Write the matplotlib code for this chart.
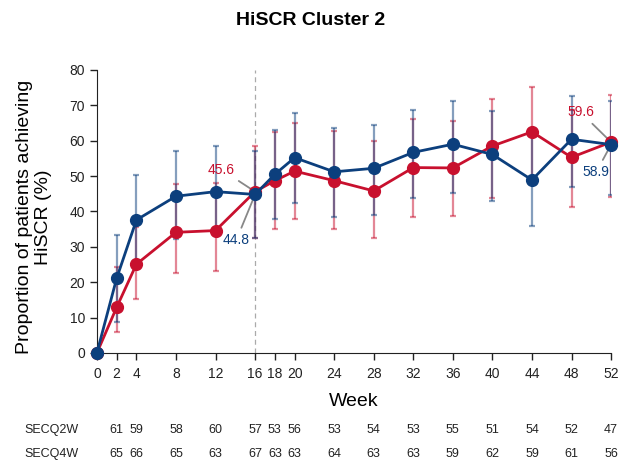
import numpy as np
import matplotlib
matplotlib.use("Agg")
import matplotlib.pyplot as plt
import matplotlib.transforms as mtransforms

plt.rcParams['font.family'] = ['Liberation Sans', 'DejaVu Sans']

weeks = [0, 2, 4, 8, 12, 16, 18, 20, 24, 28, 32, 36, 40, 44, 48, 52]

# SECQ2W (blue)
q2w = [0, 21.1, 37.6, 44.3, 45.6, 44.8, 50.5, 55.2, 51.2, 52.2, 56.7, 59.0, 56.1, 48.9, 60.4, 58.9]
q2w_lo = [0, 8.7, 25.5, 32.2, 33.0, 32.4, 37.8, 42.5, 38.3, 39.0, 43.7, 45.3, 42.9, 35.9, 47.0, 44.6]
q2w_hi = [0, 33.4, 50.3, 57.1, 58.6, 57.1, 63.0, 67.7, 63.7, 64.4, 68.8, 71.3, 68.4, 62.0, 72.6, 71.3]

# SECQ4W (red)
q4w = [0, 12.9, 25.1, 34.1, 34.6, 45.6, 48.7, 51.4, 48.7, 45.8, 52.4, 52.3, 58.5, 62.5, 55.3, 59.6]
q4w_lo = [0, 5.8, 15.2, 22.5, 23.2, 32.6, 35.0, 37.8, 35.0, 32.6, 38.3, 38.7, 43.7, 50.0, 41.2, 44.0]
q4w_hi = [0, 24.4, 35.5, 47.7, 48.1, 58.6, 62.5, 64.9, 62.7, 59.9, 66.1, 65.6, 71.7, 75.1, 68.8, 72.9]

n_q2w = [None, 61, 59, 58, 60, 57, 53, 56, 53, 54, 53, 55, 51, 54, 52, 47]
n_q4w = [None, 65, 66, 65, 63, 67, 63, 63, 64, 63, 63, 59, 62, 59, 61, 56]

blue = '#0c3f7d'
red = '#c8102e'

fig = plt.figure(figsize=(6.21, 4.63), dpi=100)
ax = fig.add_axes([0.156, 0.2376, 0.828, 0.6114])

ax.axvline(16, color='#aaaaaa', lw=0.9, ls=(0, (4, 3)), zorder=0)

for y, lo, hi, c, z in [(q4w, q4w_lo, q4w_hi, red, 2), (q2w, q2w_lo, q2w_hi, blue, 3)]:
    y = np.array(y)
    err = np.vstack([y - np.array(lo), np.array(hi) - y])
    ax.errorbar(weeks[1:], y[1:], yerr=err[:, 1:], fmt='none', ecolor=c,
                elinewidth=1.6, capsize=2, capthick=1.6, alpha=0.5, zorder=z)
    ax.plot(weeks, y, color=c, lw=2, marker='o', ms=8.5, clip_on=False, zorder=z + 2)

# annotations for week 16 and 52
ann = dict(arrowprops=dict(arrowstyle='-', color='#888888', lw=1.3, shrinkA=2, shrinkB=2),
           fontsize=10, ha='center', va='center')
ax.annotate('45.6', xy=(16, q4w[5]), xytext=(12.6, 51.8), color=red, **ann)
ax.annotate('44.8', xy=(16, q2w[5]), xytext=(14.1, 31.9), color=blue, **ann)
ax.annotate('59.6', xy=(52, q4w[-1]), xytext=(48.9, 68.1), color=red, **ann)
ax.annotate('58.9', xy=(52, q2w[-1]), xytext=(50.5, 51.1), color=blue, **ann)

ax.set_xlim(0, 52)
ax.set_ylim(0, 80)
ax.set_xticks(weeks)
ax.set_yticks(range(0, 81, 10))
ax.tick_params(labelsize=10, length=5, width=1, colors='#222222')
ax.tick_params(axis='x', pad=5)
for s in ['top', 'right']:
    ax.spines[s].set_visible(False)
for s in ['left', 'bottom']:
    ax.spines[s].set_color('#222222')
ax.set_xlabel('Week', fontsize=14, labelpad=9)
ax.set_ylabel('Proportion of patients achieving\nHiSCR (%)', fontsize=14)
ax.yaxis.set_label_coords(-0.087, 0.48)
fig.suptitle('HiSCR Cluster 2', fontsize=14, fontweight='bold', y=0.975)

# patient numbers table
trans = mtransforms.blended_transform_factory(ax.transData, fig.transFigure)
for label, counts, yf in [('SECQ2W', n_q2w, 1 - 430 / 463), ('SECQ4W', n_q4w, 1 - 454 / 463)]:
    fig.text(0.04, yf, label, fontsize=9, ha='left', va='center', color='#222222')
    for w, n in zip(weeks, counts):
        if n is not None:
            ax.text(w, yf, str(n), transform=trans, fontsize=9, ha='center', va='center', color='#222222')

fig.savefig('out.png', dpi=100)
